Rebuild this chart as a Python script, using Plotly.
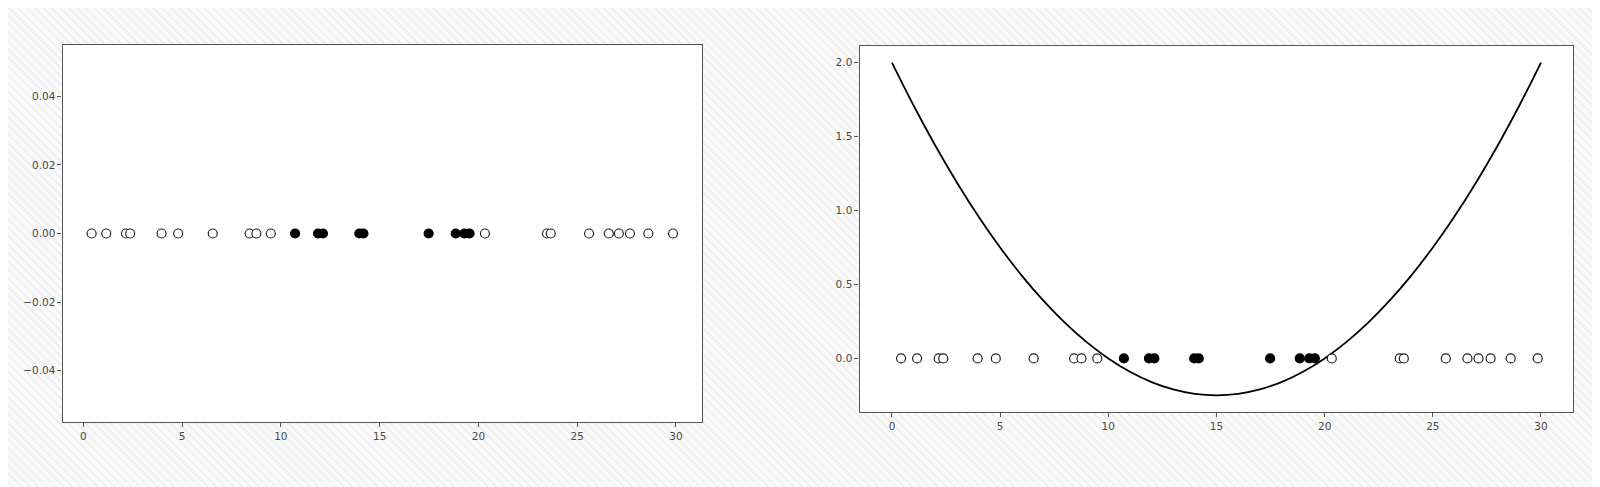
import base64
import plotly.graph_objects as go

# ---- data ----
open_x = [0.42, 1.16, 2.16, 2.37, 3.96, 4.80, 6.55, 8.42, 8.76, 9.49,
          20.33, 23.47, 23.66, 25.60, 26.60, 27.11, 27.67, 28.60, 29.85]
filled_x = [10.72, 11.88, 12.13, 13.97, 14.18, 17.48, 18.85, 19.29, 19.55]

curve_x = [0, 1, 2, 3, 4, 5, 6, 7, 8, 9, 10, 11, 12, 13, 14, 15,
           16, 17, 18, 19, 20, 21, 22, 23, 24, 25, 26, 27, 28, 29, 30]
curve_y = [2.0, 1.71, 1.44, 1.19, 0.96, 0.75, 0.56, 0.39, 0.24, 0.11, 0.0,
           -0.09, -0.16, -0.21, -0.24, -0.25, -0.24, -0.21, -0.16, -0.09, 0.0,
           0.11, 0.24, 0.39, 0.56, 0.75, 0.96, 1.19, 1.44, 1.71, 2.0]

x_ticks = [0, 5, 10, 15, 20, 25, 30]
left_y_ticks = [-0.04, -0.02, 0.0, 0.02, 0.04]
left_y_labels = ["\u22120.04", "\u22120.02", "0.00", "0.02", "0.04"]
right_y_ticks = [0.0, 0.5, 1.0, 1.5, 2.0]
right_y_labels = ["0.0", "0.5", "1.0", "1.5", "2.0"]


def auto_range(vals, pad=0.05):
    lo, hi = min(vals), max(vals)
    span = hi - lo
    return [lo - pad * span, hi + pad * span]


zeros_open = [0] * len(open_x)
zeros_filled = [0] * len(filled_x)

fig = go.Figure()

open_marker = dict(symbol="circle", size=9, color="white", line=dict(color="#222", width=1.2))
filled_marker = dict(symbol="circle", size=9, color="black", line=dict(color="black", width=1.2))

# left panel
fig.add_trace(go.Scatter(x=open_x, y=zeros_open, mode="markers", marker=open_marker,
                         xaxis="x", yaxis="y", showlegend=False))
fig.add_trace(go.Scatter(x=filled_x, y=zeros_filled, mode="markers", marker=filled_marker,
                         xaxis="x", yaxis="y", showlegend=False))

# right panel
fig.add_trace(go.Scatter(x=curve_x, y=curve_y, mode="lines", line=dict(color="black", width=1.8, shape="spline"),
                         xaxis="x2", yaxis="y2", showlegend=False))
fig.add_trace(go.Scatter(x=open_x, y=zeros_open, mode="markers", marker=open_marker,
                         xaxis="x2", yaxis="y2", showlegend=False))
fig.add_trace(go.Scatter(x=filled_x, y=zeros_filled, mode="markers", marker=filled_marker,
                         xaxis="x2", yaxis="y2", showlegend=False))

all_x = open_x + filled_x
axis_common = dict(showline=True, mirror=True, linecolor="#555", linewidth=1.2,
                   ticks="outside", ticklen=4, tickcolor="#555", tickwidth=1,
                   showgrid=False, zeroline=False,
                   tickfont=dict(family="DejaVu Sans", size=10.5, color="#4a4a4a"))

fig.update_layout(
    width=1600, height=487,
    margin=dict(l=0, r=0, t=0, b=0),
    paper_bgcolor="#f9f9f9", plot_bgcolor="white",
    xaxis=dict(domain=[0.0341, 0.4338], range=auto_range(all_x), tickvals=x_ticks,
               anchor="y", **axis_common),
    yaxis=dict(domain=[0.1499, 0.9240], range=[-0.055, 0.055], tickvals=left_y_ticks,
               ticktext=left_y_labels, anchor="x", **axis_common),
    xaxis2=dict(domain=[0.5322, 0.9784], range=auto_range(curve_x + all_x), tickvals=x_ticks,
                anchor="y2", **axis_common),
    yaxis2=dict(domain=[0.1704, 0.9220], range=auto_range(curve_y), tickvals=right_y_ticks,
                ticktext=right_y_labels, anchor="x2", **axis_common),
)

# hatched page background
svg = ('<svg xmlns="http://www.w3.org/2000/svg" width="1600" height="487">'
       '<defs><pattern id="p" width="6" height="6" patternUnits="userSpaceOnUse" '
       'patternTransform="rotate(-45)"><rect width="6" height="6" fill="#fafafa"/>'
       '<rect width="2" height="6" fill="#efefef"/></pattern></defs>'
       '<rect width="1600" height="487" fill="url(#p)"/></svg>')
uri = "data:image/svg+xml;base64," + base64.b64encode(svg.encode()).decode()
fig.add_layout_image(dict(source=uri, xref="paper", yref="paper", x=0, y=1,
                          sizex=1, sizey=1, xanchor="left", yanchor="top",
                          sizing="stretch", layer="below"))

# white plotting areas above the hatch
for xr, yr in (("x domain", "y domain"), ("x2 domain", "y2 domain")):
    fig.add_shape(type="rect", xref=xr, yref=yr, x0=0, x1=1, y0=0, y1=1,
                  fillcolor="white", line=dict(width=0), layer="below")

fig.write_html("out.html")
